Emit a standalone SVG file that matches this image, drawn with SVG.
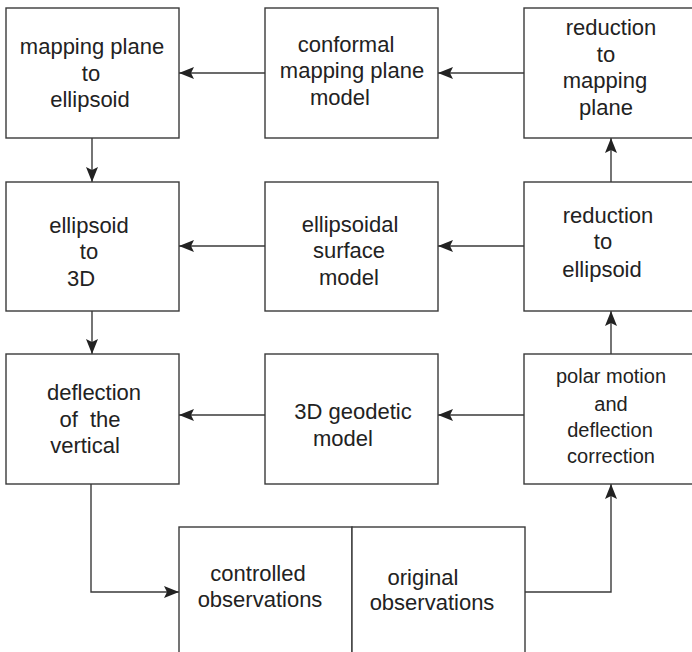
<svg xmlns="http://www.w3.org/2000/svg" width="692" height="652" viewBox="0 0 692 652">
<style>
.box{fill:#fff;stroke:#3a3a3a;stroke-width:1.4}
.t{font-family:"Liberation Sans",Arial,sans-serif;font-size:22px;fill:#222;text-anchor:middle}
.s{font-size:20px}
.c{fill:none;stroke:#3a3a3a;stroke-width:1.4}
</style>
<defs>
<marker id="ah" viewBox="0 0 15 12" refX="15" refY="6" markerWidth="15" markerHeight="12" markerUnits="userSpaceOnUse" orient="auto">
<path d="M0,0 L15,6 L0,12 L3,6 z" fill="#222"/>
</marker>
</defs>
<rect width="692" height="652" fill="#fff"/>
<g id="connectors">
<line class="c" x1="265" y1="73" x2="179" y2="73" marker-end="url(#ah)"/>
<line class="c" x1="524" y1="73" x2="438" y2="73" marker-end="url(#ah)"/>
<line class="c" x1="265" y1="246" x2="179" y2="246" marker-end="url(#ah)"/>
<line class="c" x1="524" y1="246" x2="438" y2="246" marker-end="url(#ah)"/>
<line class="c" x1="265" y1="415" x2="179" y2="415" marker-end="url(#ah)"/>
<line class="c" x1="524" y1="415" x2="438" y2="415" marker-end="url(#ah)"/>
<line class="c" x1="92" y1="138" x2="92" y2="182" marker-end="url(#ah)"/>
<line class="c" x1="92" y1="311" x2="92" y2="354" marker-end="url(#ah)"/>
<line class="c" x1="611" y1="182" x2="611" y2="138" marker-end="url(#ah)"/>
<line class="c" x1="611" y1="354" x2="611" y2="311" marker-end="url(#ah)"/>
<polyline class="c" points="525,592 611,592 611,484" marker-end="url(#ah)"/>
<polyline class="c" points="91,484 91,592 179,592" marker-end="url(#ah)"/>
</g>
<g id="mapping-to-ellipsoid">
<rect class="box" x="6" y="8" width="173" height="130"/>
<text class="t" x="92" y="54">mapping plane</text>
<text class="t" x="91" y="81">to</text>
<text class="t" x="90" y="107">ellipsoid</text>
</g>
<g id="conformal-model">
<rect class="box" x="265" y="8" width="173" height="130"/>
<text class="t" x="346" y="52">conformal</text>
<text class="t" x="352" y="78">mapping plane</text>
<text class="t" x="340" y="105">model</text>
</g>
<g id="reduction-mapping">
<rect class="box" x="524" y="8" width="180" height="130"/>
<text class="t" x="611" y="35">reduction</text>
<text class="t" x="606" y="62">to</text>
<text class="t" x="605" y="88">mapping</text>
<text class="t" x="606" y="115">plane</text>
</g>
<g id="ellipsoid-to-3d">
<rect class="box" x="6" y="182" width="173" height="129"/>
<text class="t" x="89" y="233">ellipsoid</text>
<text class="t" x="89" y="259">to</text>
<text class="t" x="81" y="286">3D</text>
</g>
<g id="ellipsoidal-model">
<rect class="box" x="265" y="182" width="173" height="129"/>
<text class="t" x="350" y="232">ellipsoidal</text>
<text class="t" x="349" y="258">surface</text>
<text class="t" x="349" y="285">model</text>
</g>
<g id="reduction-ellipsoid">
<rect class="box" x="524" y="182" width="180" height="129"/>
<text class="t" x="608" y="223">reduction</text>
<text class="t" x="603" y="249">to</text>
<text class="t" x="602" y="277">ellipsoid</text>
</g>
<g id="deflection-vertical">
<rect class="box" x="6" y="354" width="173" height="130"/>
<text class="t" x="94" y="400">deflection</text>
<text class="t" x="90" y="427" xml:space="preserve">of  the</text>
<text class="t" x="85" y="453">vertical</text>
</g>
<g id="geodetic-model">
<rect class="box" x="265" y="354" width="173" height="130"/>
<text class="t" x="353" y="419">3D geodetic</text>
<text class="t" x="343" y="446">model</text>
</g>
<g id="polar-motion">
<rect class="box" x="524" y="354" width="180" height="130"/>
<text class="t s" x="611" y="383">polar motion</text>
<text class="t s" x="611" y="411">and</text>
<text class="t s" x="610" y="437">deflection</text>
<text class="t s" x="611" y="463">correction</text>
</g>
<g id="controlled-observations">
<rect class="box" x="179" y="527" width="173" height="135"/>
<text class="t" x="258" y="581">controlled</text>
<text class="t" x="260" y="607">observations</text>
</g>
<g id="original-observations">
<rect class="box" x="352" y="527" width="173" height="135"/>
<text class="t" x="423" y="585">original</text>
<text class="t" x="432" y="610">observations</text>
</g>
</svg>
